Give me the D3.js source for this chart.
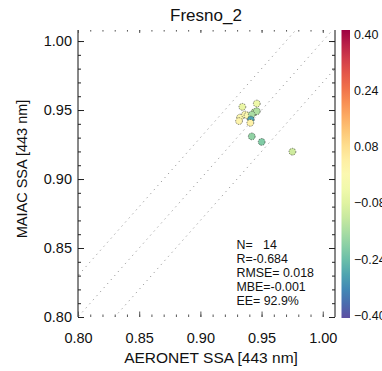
<!DOCTYPE html>
<html><head><meta charset="utf-8">
<script src="https://cdn.jsdelivr.net/npm/d3@7"></script>
<style>
html,body{margin:0;padding:0;background:#fff;}
svg{display:block;font-family:"Liberation Sans",Arial,sans-serif;}
</style></head>
<body>
<svg id="chart" width="382" height="371"></svg>
<script>
// ---- data ----
const title = "Fresno_2";
const xLabel = "AERONET SSA [443 nm]";
const yLabel = "MAIAC SSA [443 nm]";
const ssaAeronet = [0.9343, 0.9461, 0.9324, 0.9316, 0.9365, 0.9385, 0.9441, 0.9461, 0.9420, 0.9412, 0.9408, 0.9420, 0.9501, 0.9752];
const ssaMaiac   = [0.9523, 0.9547, 0.9445, 0.9420, 0.9467, 0.9460, 0.9484, 0.9491, 0.9467, 0.9431, 0.9407, 0.9309, 0.9269, 0.9198];
const colorVal   = [-0.06, -0.05, 0.01, 0.02, 0.01, 0.00, -0.14, -0.15, -0.16, -0.28, 0.03, -0.19, -0.21, -0.11];
const majorTicks = [0.80, 0.85, 0.90, 0.95, 1.00];
const minorTicks = d3.range(0, 21).map(i => +(0.80 + i * 0.01).toFixed(2));
const cbarTicks = [0.40, 0.24, 0.08, -0.08, -0.24, -0.40];
const eeOffsets = [-0.03, 0, 0.03];
const statsLines = ["N=   14", "R=-0.684", "RMSE= 0.018", "MBE=-0.001", "EE= 92.9%"];

// ---- layout ----
const L = 78, R = 335, T = 30, B = 317;
const svg = d3.select("#chart");
const x = d3.scaleLinear().domain([0.80, 1.01]).range([L, R]);
const y = d3.scaleLinear().domain([0.80, 1.008]).range([B, T]);
const color = d3.scaleSequential(t => d3.interpolateSpectral(1 - t)).domain([-0.40, 0.40]);

svg.append("defs").append("clipPath").attr("id", "clip")
  .append("rect").attr("x", L).attr("y", T).attr("width", R - L).attr("height", B - T);

// reference lines
const plot = svg.append("g").attr("clip-path", "url(#clip)");
eeOffsets.forEach(o => {
  plot.append("line")
    .attr("x1", x(0.78)).attr("y1", y(0.78 + o))
    .attr("x2", x(1.03)).attr("y2", y(1.03 + o))
    .attr("stroke", "#9a9a9a").attr("stroke-width", 1)
    .attr("stroke-dasharray", "1.2,4.2");
});

// axes
function styleAxis(g, fs) {
  g.attr("font-family", null).attr("font-size", null);
  g.selectAll("text").attr("font-size", fs).attr("fill", "#111");
  g.selectAll("line").attr("stroke", "#222");
  g.select(".domain").attr("stroke", "#111");
}
const fmt = d3.format(".2f");
// left
svg.append("g").attr("transform", `translate(${L},0)`)
  .call(d3.axisLeft(y).tickValues(minorTicks).tickSize(-3).tickSizeOuter(0).tickFormat(""))
  .call(g => { styleAxis(g, 14); g.select(".domain").attr("d", `M0,${T}V${B}`); });
svg.append("g").attr("transform", `translate(${L},0)`)
  .call(d3.axisLeft(y).tickValues(majorTicks).tickSize(-6).tickSizeOuter(0).tickPadding(6).tickFormat(fmt))
  .call(g => { styleAxis(g, 14.5); g.select(".domain").remove(); });
// right
svg.append("g").attr("transform", `translate(${R},0)`)
  .call(d3.axisRight(y).tickValues(minorTicks).tickSize(-3).tickSizeOuter(0).tickFormat(""))
  .call(g => { styleAxis(g, 14); g.select(".domain").attr("d", `M0,${T}V${B}`); });
svg.append("g").attr("transform", `translate(${R},0)`)
  .call(d3.axisRight(y).tickValues(majorTicks).tickSize(-6).tickSizeOuter(0).tickFormat(""))
  .call(g => { styleAxis(g, 14); g.select(".domain").remove(); });
// bottom
svg.append("g").attr("transform", `translate(0,${B})`)
  .call(d3.axisBottom(x).tickValues(minorTicks).tickSize(-2.5).tickFormat(""))
  .call(g => { styleAxis(g, 14); g.select(".domain").remove(); g.selectAll("line").attr("stroke", "#555"); });
svg.append("g").attr("transform", `translate(0,${B})`)
  .call(d3.axisBottom(x).tickValues(majorTicks).tickSize(-5.5).tickPadding(16).tickFormat(fmt))
  .call(g => { styleAxis(g, 14.5); g.select(".domain").remove(); g.selectAll("line").attr("stroke", "#555"); });
// top
svg.append("g").attr("transform", `translate(0,${T})`)
  .call(d3.axisTop(x).tickValues(minorTicks).tickSize(-1.6).tickFormat(""))
  .call(g => { styleAxis(g, 14); g.select(".domain").remove(); g.selectAll("line").attr("stroke", "#555"); });
svg.append("g").attr("transform", `translate(0,${T})`)
  .call(d3.axisTop(x).tickValues(majorTicks).tickSize(-3).tickFormat(""))
  .call(g => { styleAxis(g, 14); g.select(".domain").remove(); g.selectAll("line").attr("stroke", "#555"); });

// points
const pts = ssaAeronet.map((v, i) => ({ x: v, y: ssaMaiac[i], c: colorVal[i] }));
svg.append("g").selectAll("circle").data(pts).join("circle")
  .attr("cx", d => x(d.x)).attr("cy", d => y(d.y)).attr("r", 3.4)
  .attr("fill", d => color(d.c))
  .attr("stroke", "#333").attr("stroke-width", 0.6).attr("stroke-dasharray", "1.5,1");

// stats text
svg.append("g").selectAll("text").data(statsLines).join("text")
  .attr("x", 236.5).attr("y", (d, i) => 248.5 + i * 14)
  .attr("font-size", 12.4).attr("fill", "#111")
  .style("white-space", "pre")
  .text(d => d);

// titles
svg.append("text").attr("x", 206).attr("y", 21).attr("text-anchor", "middle")
  .attr("font-size", 17).attr("fill", "#111").text(title);
svg.append("text").attr("x", 211).attr("y", 363).attr("text-anchor", "middle")
  .attr("font-size", 15.5).attr("fill", "#111").text(xLabel);
svg.append("text").attr("transform", "translate(26.5,169) rotate(-90)").attr("text-anchor", "middle")
  .attr("font-size", 14.5).attr("fill", "#111").text(yLabel);

// colorbar
const cbX = 341.5, cbW = 8.5, cbTop = 30, cbBot = 318;
const grad = svg.select("defs").append("linearGradient").attr("id", "cbgrad")
  .attr("x1", 0).attr("y1", 1).attr("x2", 0).attr("y2", 0);
d3.range(0, 1.0001, 0.05).forEach(t => {
  grad.append("stop").attr("offset", t).attr("stop-color", color(-0.40 + 0.80 * t));
});
svg.append("rect").attr("x", cbX).attr("y", cbTop).attr("width", cbW).attr("height", cbBot - cbTop)
  .attr("fill", "url(#cbgrad)");
const cbScale = d3.scaleLinear().domain([-0.40, 0.40]).range([315.5, 34]);
svg.append("g").selectAll("text").data(cbarTicks).join("text")
  .attr("x", 354).attr("y", d => cbScale(d)).attr("dy", "0.36em")
  .attr("font-size", 12.5).attr("fill", "#111")
  .text(d => d3.format(".2f")(d));
</script>
</body></html>
